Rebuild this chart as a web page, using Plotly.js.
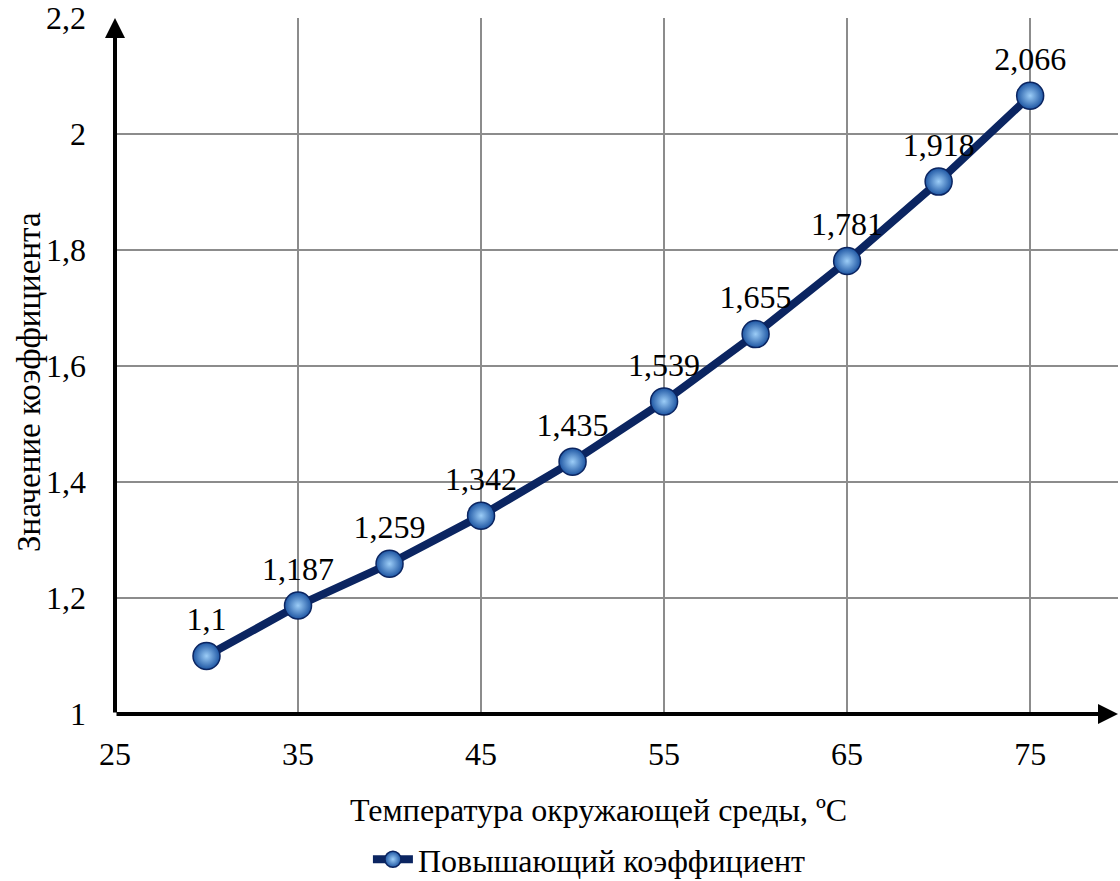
<!DOCTYPE html>
<html>
<head>
<meta charset="utf-8">
<script src="https://cdn.plot.ly/plotly-3.0.1.min.js"></script>
<style>html,body{margin:0;padding:0;background:#fff;}#chart{width:1120px;height:881px;}</style>
</head>
<body>
<div id="chart"></div>
<script>
const temperature = [30, 35, 40, 45, 50, 55, 60, 65, 70, 75];
const coefficient = [1.1, 1.187, 1.259, 1.342, 1.435, 1.539, 1.655, 1.781, 1.918, 2.066];
const seriesName = 'Повышающий коэффициент';
const xTitle = 'Температура окружающей среды, ºC';
const yTitle = 'Значение коэффициента';

const labels = coefficient.map(v => String(v).replace('.', ','));
const FONT = 'Liberation Serif';
const FS = 32;

const trace = {
  x: temperature,
  y: coefficient,
  type: 'scatter',
  mode: 'lines+markers+text',
  name: seriesName,
  text: labels,
  textposition: 'top center',
  textfont: {family: FONT, size: FS, color: '#000'},
  line: {color: '#0b2561', width: 8},
  marker: {
    size: 27,
    color: '#1e56a3',
    gradient: {type: 'radial', color: '#9ccdf7'},
    line: {color: '#0b2561', width: 1.5}
  },
  cliponaxis: false
};

const layout = {
  width: 1120,
  height: 881,
  margin: {l: 115, r: 2, t: 18, b: 167, autoexpand: false},
  paper_bgcolor: '#fff',
  plot_bgcolor: '#fff',
  separators: ', ',
  font: {family: FONT, size: FS, color: '#000'},
  showlegend: true,
  legend: {
    orientation: 'h',
    x: 0.473, xanchor: 'center',
    y: -0.209, yanchor: 'middle',
    font: {family: FONT, size: FS, color: '#000'},
    itemwidth: 40
  },
  xaxis: {
    range: [25, 79.8],
    tick0: 25, dtick: 10,
    automargin: false,
    showgrid: true, gridcolor: '#8c8c8c', gridwidth: 2,
    zeroline: false, showline: false,
    ticks: '', ticklabelstandoff: 18,
    tickfont: {family: FONT, size: FS, color: '#000'}
  },
  yaxis: {
    range: [1, 2.2],
    tick0: 1, dtick: 0.2,
    automargin: false,
    showgrid: true, gridcolor: '#8c8c8c', gridwidth: 2,
    zeroline: false, showline: false,
    ticks: '', ticklabelstandoff: 28,
    tickfont: {family: FONT, size: FS, color: '#000'}
  },
  annotations: [
    {x: 79.8, y: 1, ax: 25, ay: 1, xref: 'x', yref: 'y', axref: 'x', ayref: 'y',
     showarrow: true, arrowhead: 2, arrowsize: 1, arrowwidth: 4, arrowcolor: '#000', text: ''},
    {x: 25, y: 2.2, ax: 25, ay: 1, xref: 'x', yref: 'y', axref: 'x', ayref: 'y',
     showarrow: true, arrowhead: 2, arrowsize: 1, arrowwidth: 4, arrowcolor: '#000', text: ''},
    {text: xTitle, xref: 'paper', yref: 'paper', x: (598 - 115) / 1003, y: -(810 - 714) / 696,
     xanchor: 'center', yanchor: 'middle', showarrow: false,
     font: {family: FONT, size: FS, color: '#000'}},
    {text: yTitle, xref: 'paper', yref: 'paper', x: -(115 - 29) / 1003, y: (714 - 382) / 696,
     xanchor: 'center', yanchor: 'middle', showarrow: false, textangle: -90,
     font: {family: FONT, size: 33, color: '#000'}}
  ]
};

Plotly.newPlot('chart', [trace], layout, {displayModeBar: false, staticPlot: true});
</script>
</body>
</html>
